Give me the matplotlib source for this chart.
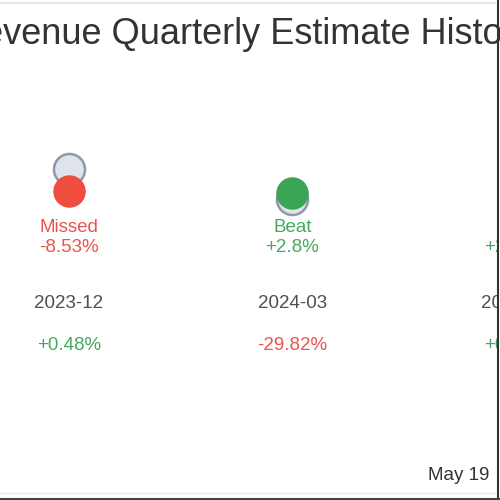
import matplotlib
matplotlib.use("Agg")
import matplotlib.pyplot as plt
from matplotlib.lines import Line2D
import matplotlib.transforms as mtransforms

plt.rcParams['font.family'] = ['Liberation Sans', 'DejaVu Sans']

# Data
periods = ["2023-12", "2024-03", "2024-06"]
estimates = [12.66, 11.17, 11.20]
actuals = [11.58, 11.48, 11.45]
results = ["Missed", "Beat", "Beat"]
surprise = ["-8.53%", "+2.8%", "+2.23%"]
changes = ["+0.48%", "-29.82%", "+0.55%"]
title = "Revenue Quarterly Estimate History"
date_note = "May 19"

RED = "#ef4e3e"
GREEN = "#3aa655"
RED_T = "#e9544c"
GREEN_T = "#45aa5f"

fig = plt.figure(figsize=(5, 5), dpi=100)
ax = fig.add_axes([0, 0, 0.994, 1])
ax.set_xlim(-0.3087, 1.915)
ax.set_ylim(-3.59, 20.956)
ax.axis("off")

xs = list(range(len(periods)))
ax.scatter(xs, estimates, s=500, color="#dfe4ea", edgecolor="#8e99ab", linewidth=1.8, zorder=2)
for x, a, e in zip(xs, actuals, estimates):
    c = GREEN if a >= e else RED
    ax.scatter([x], [a], s=500, color=c, edgecolor=c, linewidth=1, zorder=3)

tr = mtransforms.blended_transform_factory(ax.transData, ax.transAxes)
for x, r, s, p, ch in zip(xs, results, surprise, periods, changes):
    col = GREEN_T if s.startswith("+") else RED_T
    kw = dict(transform=tr, ha="center", va="center", fontsize=13.5, clip_on=True)
    ax.text(x, 0.544, r, color=col, **kw)
    ax.text(x, 0.506, s, color=col, **kw)
    ax.text(x, 0.394, p, color="#4a4f5c", **kw)
    cc = GREEN_T if ch.startswith("+") else RED_T
    ax.text(x, 0.310, ch, color=cc, **kw)

fig.text(-0.086, 0.930, title, ha="left", va="center", fontsize=26, color="#333333")
fig.text(0.856, 0.050, date_note, ha="left", va="center", fontsize=13.5, color="#333333")

fig.add_artist(Line2D([0, 0.99], [0.994, 0.994], transform=fig.transFigure, color="#dde1e8", lw=1.2))
fig.add_artist(Line2D([0, 0.99], [0.014, 0.014], transform=fig.transFigure, color="#e3e6ea", lw=1.0))
fig.add_artist(Line2D([0.995, 0.995], [0, 1], transform=fig.transFigure, color="#333333", lw=1.5))
fig.add_artist(Line2D([0, 1], [0.003, 0.003], transform=fig.transFigure, color="#444444", lw=1.5))

fig.savefig("out.png", dpi=100)
